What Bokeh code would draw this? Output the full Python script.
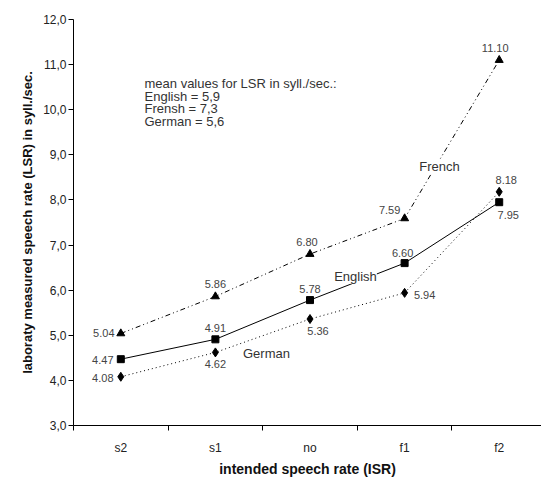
from bokeh.plotting import figure
from bokeh.models import Range1d, FixedTicker, Label, ColumnDataSource
from bokeh.embed import file_html
from bokeh.resources import INLINE
from bokeh.core.properties import value

# ---- data ----
categories = ["s2", "s1", "no", "f1", "f2"]
french = [5.04, 5.86, 6.80, 7.59, 11.10]
english = [4.47, 4.91, 5.78, 6.60, 7.95]
german = [4.08, 4.62, 5.36, 5.94, 8.18]
y_ticks = [3, 4, 5, 6, 7, 8, 9, 10, 11, 12]
mean_lines = ["mean values for LSR in syll./sec.:", "English = 5,9", "Frensh = 7,3", "German = 5,6"]

# ---- label offsets (pixels), styling only ----
fr_off = [(-17, 0), (0, -12), (-3, -12), (-15, -8), (-4, -12)]
en_off = [(-18, 1), (0, -11), (0, -11), (-2, -10), (9, 13)]
de_off = [(-18, 1), (0, 12), (8, 12), (20, 2), (7, -12)]

FONT = "Liberation Sans"
xs = list(range(len(categories)))

p = figure(width=541, height=479, output_backend="svg", toolbar_location=None,
           x_range=Range1d(-0.5, 4.447), y_range=Range1d(3, 12),
           min_border_left=73, min_border_right=0, min_border_top=19, min_border_bottom=53)
p.outline_line_color = None
p.grid.visible = False
p.background_fill_color = "white"
p.border_fill_color = "white"

# axes
p.xaxis.ticker = FixedTicker(ticks=xs, minor_ticks=[i - 0.5 for i in xs])
p.xaxis.major_label_overrides = {i: c for i, c in enumerate(categories)}
p.xaxis.major_tick_out = 0
p.xaxis.major_tick_in = 0
p.xaxis.minor_tick_out = 5
p.xaxis.minor_tick_in = 0
p.xaxis.major_label_standoff = 10
p.xaxis.axis_label = "intended speech rate (ISR)"
p.xaxis.axis_label_standoff = 3

p.yaxis.ticker = FixedTicker(ticks=y_ticks)
p.yaxis.major_label_overrides = {t: f"{t},0" for t in y_ticks}
p.yaxis.major_tick_out = 5
p.yaxis.major_tick_in = 0
p.yaxis.minor_tick_out = 0
p.yaxis.minor_tick_in = 0
p.yaxis.major_label_standoff = 2
p.yaxis.axis_label = "laboraty measured speech rate (LSR) in syll./sec."
p.yaxis.axis_label_standoff = 5

for ax in (p.xaxis[0], p.yaxis[0]):
    ax.axis_line_color = "black"
    ax.major_tick_line_color = "black"
    ax.minor_tick_line_color = "black"
    ax.major_label_text_font = FONT
    ax.major_label_text_font_size = "12px"
    ax.major_label_text_color = "#222222"
    ax.axis_label_text_font = FONT
    ax.axis_label_text_font_size = "13px"
    ax.axis_label_text_font_style = "bold"
    ax.axis_label_text_color = "#111111"
p.xaxis.axis_label_text_font_size = "14px"

# lines
p.line(xs, french, line_color="black", line_width=1, line_dash="5 3 1 3 1 3")
p.line(xs, english, line_color="black", line_width=1)
p.line(xs, german, line_color="black", line_width=1, line_dash="1 3")

# line name labels (white background breaks the line, like the original)
for txt, x, y in [("French", 3.369, 8.746), ("English", 2.481, 6.312)]:
    p.add_layout(Label(x=x, y=y, text=txt, text_align="center", text_baseline="middle",
                       text_font=FONT, text_font_size="13px", text_color="#333333",
                       background_fill_color="white", background_fill_alpha=1.0))
p.add_layout(Label(x=1.540, y=4.587, text="German", text_align="center", text_baseline="middle",
                   text_font=FONT, text_font_size="13px", text_color="#333333"))

# markers
p.scatter(xs, french, marker="triangle", size=8, color="black")
p.scatter(xs, english, marker="square", size=7, color="black")
p.scatter(xs, german, marker="diamond", size=9, color="black")

# value labels
for vals, offs in [(french, fr_off), (english, en_off), (german, de_off)]:
    src = ColumnDataSource(dict(x=xs, y=vals, t=[f"{v:.2f}" for v in vals],
                                dx=[o[0] for o in offs], dy=[o[1] for o in offs]))
    p.text(x="x", y="y", text="t", x_offset="dx", y_offset="dy", source=src,
           text_align="center", text_baseline="middle",
           text_font=value(FONT), text_font_size="11px", text_color="#444444")

# mean values box (one text per line, 12.5px line spacing)
n = len(mean_lines)
p.text(x=[0.2505] * n, y=[10.58] * n, text=mean_lines,
       y_offset=[i * 12.5 for i in range(n)],
       text_align="left", text_baseline="middle",
       text_font=value(FONT), text_font_size="13px", text_color="#333333")

open("out.html", "w").write(file_html(p, INLINE))
